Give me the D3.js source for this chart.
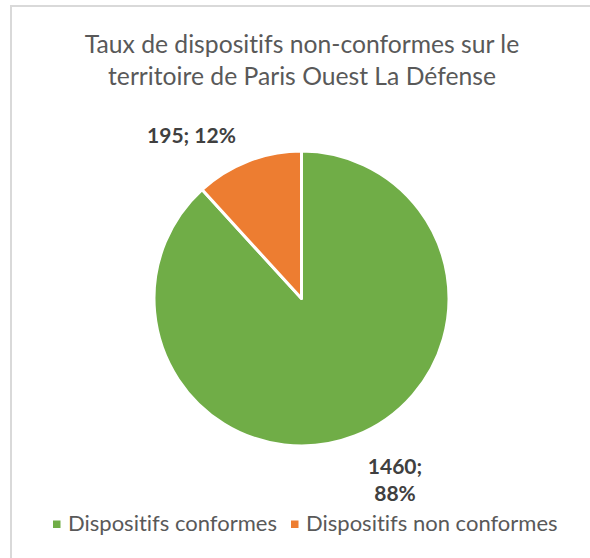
<!DOCTYPE html>
<html>
<head>
<meta charset="utf-8">
<script src="https://cdn.jsdelivr.net/npm/d3@7"></script>
<style>
  html, body { margin: 0; padding: 0; background: #ffffff; }
  svg { display: block; }
  text { font-variant-ligatures: none; }
</style>
</head>
<body>
<svg id="chart" width="590" height="558"></svg>
<script>
// Pie chart data
const categories = ["Dispositifs conformes", "Dispositifs non conformes"];
const values = [1460, 195];
const percentLabels = ["88%", "12%"];
const colors = ["#70ad47", "#ed7d31"];
const titleLines = ["Taux de dispositifs non-conformes sur le", "territoire de Paris Ouest La Défense"];

const svg = d3.select("#chart");
const font = "Lato, 'Open Sans', sans-serif";

// Chart area frame
svg.append("rect")
  .attr("x", 11).attr("y", 6)
  .attr("width", 600).attr("height", 600)
  .attr("fill", "#ffffff")
  .attr("stroke", "#d9d9d9")
  .attr("stroke-width", 2);

// Title
svg.append("g").selectAll("text")
  .data(titleLines)
  .join("text")
  .attr("x", 302)
  .attr("y", (d, i) => 53 + i * 32)
  .attr("text-anchor", "middle")
  .attr("font-family", font)
  .attr("font-size", 24.7)
  .attr("fill", "#595959")
  .text(d => d);

// Pie
const cx = 301.5, cy = 298.5, radius = 147.5;
const pie = d3.pie().sort(null).value(d => d)(values);
const arc = d3.arc().innerRadius(0).outerRadius(radius);

const g = svg.append("g").attr("transform", `translate(${cx},${cy})`);
g.selectAll("path")
  .data(pie)
  .join("path")
  .attr("d", arc)
  .attr("fill", (d, i) => colors[i])
  .attr("stroke", "#ffffff")
  .attr("stroke-width", 3)
  .attr("stroke-linejoin", "round");

// Data labels (value; percent), placed outside the slices
const labelPos = [
  { x: 395, y: 474, lines: [values[0] + ";", percentLabels[0]] },
  { x: 191.5, y: 143, lines: [values[1] + "; " + percentLabels[1]] }
];
const lg = svg.append("g");
labelPos.forEach(p => {
  lg.append("text")
    .attr("x", p.x)
    .attr("y", p.y)
    .attr("text-anchor", "middle")
    .attr("font-family", font)
    .attr("font-size", 21)
    .attr("font-weight", "bold")
    .attr("fill", "#404040")
    .selectAll("tspan")
    .data(p.lines)
    .join("tspan")
    .attr("x", p.x)
    .attr("dy", (d, i) => i === 0 ? 0 : 27)
    .text(d => d);
});

// Legend
const legendX = [53, 291];
const leg = svg.append("g");
categories.forEach((c, i) => {
  leg.append("rect")
    .attr("x", legendX[i]).attr("y", 520.5)
    .attr("width", 7.5).attr("height", 7.5)
    .attr("fill", colors[i]);
  leg.append("text")
    .attr("x", legendX[i] + 15)
    .attr("y", 531)
    .attr("font-family", font)
    .attr("font-size", 22)
    .attr("fill", "#595959")
    .text(c);
});
</script>
</body>
</html>
